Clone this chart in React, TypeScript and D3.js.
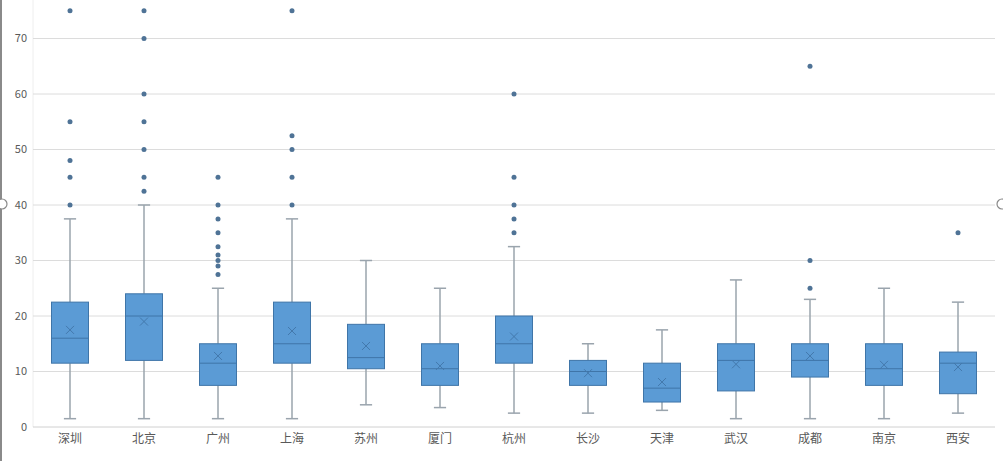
import React from "react";
import * as d3 from "d3";

const categories = ["深圳", "北京", "广州", "上海", "苏州", "厦门", "杭州", "长沙", "天津", "武汉", "成都", "南京", "西安"];
const whiskerLow = [1.5, 1.5, 1.5, 1.5, 4, 3.5, 2.5, 2.5, 3, 1.5, 1.5, 1.5, 2.5];
const q1 = [11.5, 12, 7.5, 11.5, 10.5, 7.5, 11.5, 7.5, 4.5, 6.5, 9, 7.5, 6];
const median = [16, 20, 11.5, 15, 12.5, 10.5, 15, 10, 7, 12, 12, 10.5, 11.5];
const q3 = [22.5, 24, 15, 22.5, 18.5, 15, 20, 12, 11.5, 15, 15, 15, 13.5];
const whiskerHigh = [37.5, 40, 25, 37.5, 30, 25, 32.5, 15, 17.5, 26.5, 23, 25, 22.5];
const means = [17.5, 19, 12.8, 17.3, 14.6, 11, 16.3, 9.7, 8.1, 11.3, 12.8, 11.2, 10.8];
const outliers: number[][] = [
  [40, 45, 48, 55, 75],
  [42.5, 45, 50, 55, 60, 70, 75],
  [27.5, 29, 30, 31, 32.5, 35, 37.5, 40, 45],
  [40, 45, 50, 52.5, 75],
  [],
  [],
  [35, 37.5, 40, 45, 60],
  [],
  [],
  [],
  [25, 30, 65],
  [],
  [35],
];
const yTicks = [0, 10, 20, 30, 40, 50, 60, 70];

const W = 1003;
const H = 461;
const left = 33;
const right = 995;

export default function App() {
  const x = d3.scaleBand<string>().domain(categories).range([left, right]).paddingInner(0).paddingOuter(0);
  const y = d3.scaleLinear().domain([0, 80]).range([427, -17]);
  const bw = x.bandwidth() * 0.5;
  const capW = bw * 0.33;
  const font = "'Noto Sans CJK SC', 'Noto Sans', sans-serif";

  return (
    <svg width={W} height={H} style={{ position: "absolute", left: 0, top: 0, background: "#fff" }}>
      <rect x={0} y={0} width={W} height={H} fill="#ffffff" />
      <line x1={1} x2={1} y1={0} y2={H} stroke="#8a8a8a" strokeWidth={2} />
      {/* plot area edges */}
      <line x1={left} x2={left} y1={0} y2={y(0)} stroke="#eeeeee" strokeWidth={1} />
      {yTicks.map((t) => (
        <g key={t}>
          <line x1={left} x2={right} y1={y(t)} y2={y(t)} stroke={t === 0 ? "#d0d0d0" : "#dcdcdc"} strokeWidth={1} />
          <text x={27} y={y(t)} dy="0.35em" textAnchor="end" fontSize={11} fill="#595959" fontFamily={font}>
            {t}
          </text>
        </g>
      ))}
      {categories.map((c, i) => {
        const cx = (x(c) as number) + x.bandwidth() / 2;
        const mx = 4;
        return (
          <g key={c}>
            <line x1={cx} x2={cx} y1={y(whiskerHigh[i])} y2={y(q3[i])} stroke="#9aa4ad" strokeWidth={1.5} />
            <line x1={cx} x2={cx} y1={y(q1[i])} y2={y(whiskerLow[i])} stroke="#9aa4ad" strokeWidth={1.5} />
            <line x1={cx - capW / 2} x2={cx + capW / 2} y1={y(whiskerHigh[i])} y2={y(whiskerHigh[i])} stroke="#9aa4ad" strokeWidth={1.5} />
            <line x1={cx - capW / 2} x2={cx + capW / 2} y1={y(whiskerLow[i])} y2={y(whiskerLow[i])} stroke="#9aa4ad" strokeWidth={1.5} />
            <rect x={cx - bw / 2} y={y(q3[i])} width={bw} height={y(q1[i]) - y(q3[i])} fill="#5b9bd5" stroke="#3f75a8" strokeWidth={1} />
            <line x1={cx - bw / 2} x2={cx + bw / 2} y1={y(median[i])} y2={y(median[i])} stroke="#3f75a8" strokeWidth={1} />
            <g stroke="#4379ad" strokeWidth={1}>
              <line x1={cx - mx} x2={cx + mx} y1={y(means[i]) - mx} y2={y(means[i]) + mx} />
              <line x1={cx - mx} x2={cx + mx} y1={y(means[i]) + mx} y2={y(means[i]) - mx} />
            </g>
            {outliers[i].map((v, k) => (
              <circle key={k} cx={cx} cy={y(v)} r={2.5} fill="#4f7396" />
            ))}
            <text x={cx} y={443} textAnchor="middle" fontSize={12} fill="#595959" fontFamily={font}>
              {c}
            </text>
          </g>
        );
      })}
      <circle cx={2} cy={204} r={5} fill="#ffffff" stroke="#8a8a8a" strokeWidth={1.2} />
      <circle cx={1002} cy={204} r={5} fill="#ffffff" stroke="#8a8a8a" strokeWidth={1.2} />
    </svg>
  );
}
